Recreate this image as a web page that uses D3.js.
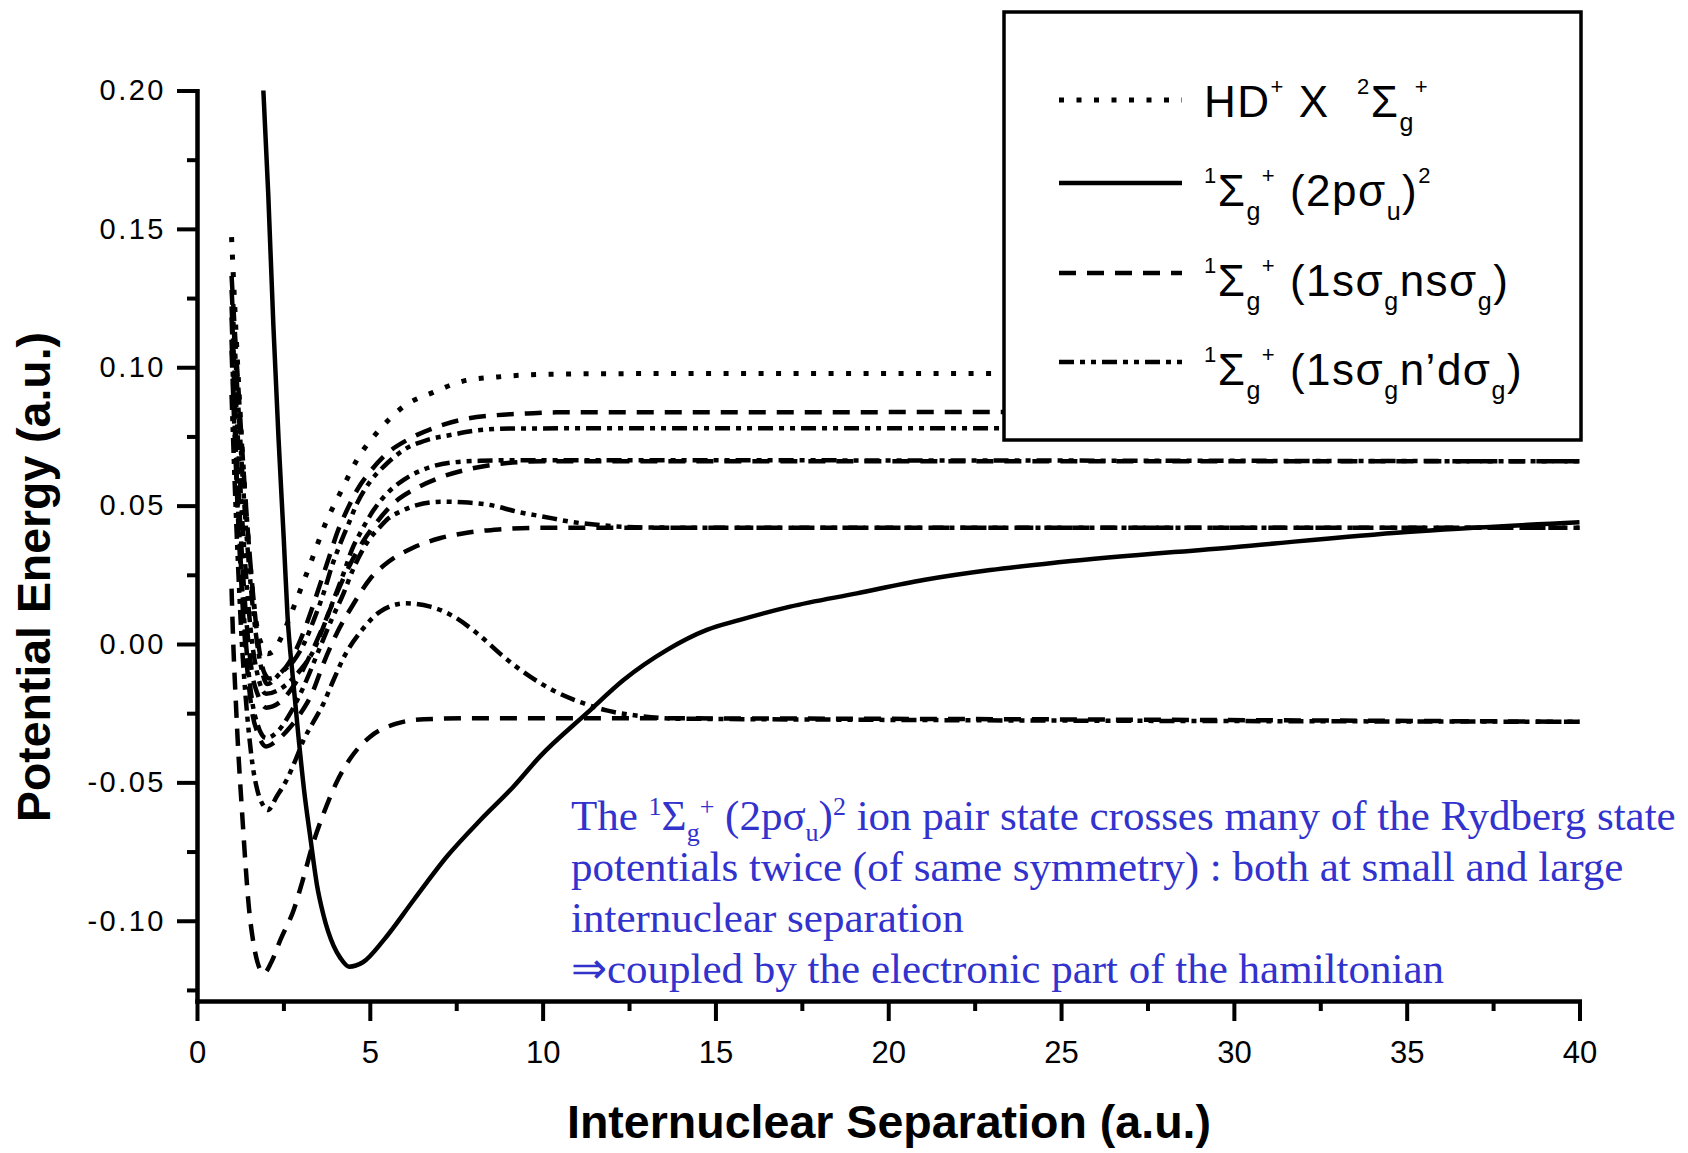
<!DOCTYPE html>
<html>
<head>
<meta charset="utf-8">
<script src="https://cdn.jsdelivr.net/npm/d3@7"></script>
<style>
  html, body { margin: 0; padding: 0; background: #ffffff; }
  svg { display: block; }
  text { white-space: pre; }
</style>
</head>
<body>
<svg id="chart" width="1688" height="1153"></svg>
<script>
// Potential energy curves of HD, 1Σg+ symmetry (energies and distances in a.u.)

const xTicksMajor = [0, 5, 10, 15, 20, 25, 30, 35, 40];
const xTicksMinor = [2.5, 7.5, 12.5, 17.5, 22.5, 27.5, 32.5, 37.5];
const yTicksMajor = [-0.10, -0.05, 0.00, 0.05, 0.10, 0.15, 0.20];
const yTicksMinor = [-0.125, -0.075, -0.025, 0.025, 0.075, 0.125, 0.175];

// HD+ X 2Σg+ ion core
const hdIonCore = [[1.0,0.147],[1.1,0.120],[1.2,0.095],[1.3,0.072],[1.4,0.052],[1.5,0.035],[1.6,0.020],[1.75,0.005],
  [1.9,-0.001],[2.05,-0.0035],[2.25,-0.002],[2.4,0.0014],[2.6,0.007],[2.84,0.0147],[3.25,0.028],[3.7,0.043],[4.2,0.056],
  [4.65,0.067],[5.25,0.077],[6.0,0.086],[6.85,0.091],[7.7,0.095],[8.7,0.0965],[10.3,0.0975],[13,0.0977],[24,0.0977]];

// 1Σg+ (2pσu)2 ion-pair state
const ionPair = [[1.92,0.200],[2.06,0.163],[2.21,0.115],[2.36,0.074],[2.51,0.038],[2.62,0.010],[2.78,-0.013],
  [2.94,-0.034],[3.1,-0.053],[3.28,-0.070],[3.47,-0.087],[3.66,-0.098],[3.95,-0.109],[4.15,-0.1135],[4.4,-0.1166],
  [4.8,-0.1150],[5.4,-0.107],[6.27,-0.0925],[7.23,-0.0768],[8.2,-0.0636],[9.16,-0.0515],[9.92,-0.0407],
  [11.28,-0.025],[12.34,-0.013],[13.59,-0.0022],[14.75,0.0051],[15.71,0.0087],[17.16,0.0135],[19.09,0.0183],
  [21.02,0.0231],[22.95,0.0267],[25,0.0296],[30,0.035],[35,0.0405],[40,0.044]];

// 1Σg+ (1sσg nsσg) Rydberg states
const nsSigma2 = [[1.0,0.02],[1.05,0.0],[1.12,-0.02],[1.2,-0.04],[1.3,-0.06],[1.4,-0.079],[1.5,-0.095],
  [1.62,-0.107],[1.75,-0.115],[1.93,-0.119],[2.15,-0.115],[2.41,-0.107],[2.8,-0.096],[3.09,-0.084],[3.33,-0.0732],
  [3.67,-0.061],[4.05,-0.0497],[4.44,-0.0413],[5.01,-0.0335],[5.74,-0.0289],[6.56,-0.0272],[8,-0.0268],[40,-0.0281]];
const nsSigma3 = [[1.0,0.106],[1.1,0.072],[1.2,0.042],[1.3,0.018],[1.4,-0.001],[1.5,-0.015],[1.6,-0.025],[1.75,-0.032],
  [2.0,-0.037],[2.3,-0.035],[2.7,-0.030],[3.0,-0.025],[3.33,-0.0178],[3.66,-0.007],[4.05,0.004],[4.51,0.0141],
  [5.0,0.0234],[5.54,0.0297],[6.22,0.0346],[7.02,0.0382],[7.81,0.0402],[8.73,0.0414],[10,0.042],[40,0.042]];
const nsSigma4 = [[1.0,0.118],[1.1,0.085],[1.2,0.056],[1.3,0.032],[1.4,0.013],[1.5,-0.001],[1.6,-0.011],[1.75,-0.018],
  [2.0,-0.023],[2.4,-0.021],[2.8,-0.015],[3.2,-0.006],[3.6,0.005],[4.0,0.017],[4.4,0.028],[4.8,0.037],
  [5.2,0.044],[5.7,0.051],[6.3,0.056],[7.0,0.060],[7.8,0.063],[8.7,0.065],[10,0.066],[40,0.066]];
const nsSigma6 = [[1.0,0.133],[1.1,0.112],[1.2,0.092],[1.3,0.072],[1.4,0.053],[1.5,0.036],[1.6,0.021],[1.7,0.008],
  [1.8,-0.002],[1.95,-0.0105],[2.1,-0.0125],[2.31,-0.0115],[2.7,-0.006],[2.99,0.0014],[3.28,0.0111],[3.57,0.0219],
  [3.86,0.0328],[4.05,0.040],[4.34,0.0484],[4.63,0.0556],[5.01,0.0623],[5.5,0.0689],[6.08,0.0737],[6.9,0.0783],
  [7.71,0.0812],[8.68,0.0827],[9.55,0.0833],[10.4,0.0837],[24,0.0838]];

// 1Σg+ (1sσg n'dσg) Rydberg states
const ndSigmaA = [[1.0,0.09],[1.1,0.055],[1.2,0.025],[1.3,0.0],[1.4,-0.018],[1.5,-0.032],[1.6,-0.043],[1.75,-0.053],
  [1.9,-0.058],[2.05,-0.060],[2.31,-0.055],[2.6,-0.049],[2.89,-0.0407],[3.09,-0.0345],[3.33,-0.029],[3.64,-0.022],
  [3.95,-0.013],[4.24,-0.005],[4.77,0.005],[5.3,0.0117],[6.03,0.0147],[6.75,0.0135],[7.43,0.0099],[8.1,0.0039],
  [8.87,-0.0046],[9.64,-0.0118],[10.37,-0.0172],[11.18,-0.0214],[11.85,-0.024],[12.8,-0.026],[14,-0.027],[40,-0.0281]];
const ndSigmaB = [[1.0,0.11],[1.1,0.076],[1.2,0.046],[1.3,0.022],[1.4,0.003],[1.5,-0.011],[1.6,-0.021],[1.75,-0.029],
  [2.0,-0.034],[2.3,-0.032],[2.7,-0.025],[3.1,-0.015],[3.5,-0.003],[3.9,0.009],[4.24,0.0183],[4.5,0.0265],
  [4.75,0.033],[4.97,0.0376],[5.26,0.0418],[5.54,0.0454],[5.88,0.0478],[6.36,0.0502],[7.09,0.0514],[7.71,0.0512],
  [8.49,0.0502],[9.26,0.0478],[10.03,0.046],[10.8,0.0442],[11.8,0.0428],[13,0.0421],[15,0.042],[40,0.042]];
const ndSigmaC = [[1.0,0.122],[1.1,0.095],[1.2,0.070],[1.3,0.047],[1.4,0.028],[1.5,0.012],[1.6,0.0],[1.75,-0.011],
  [2.0,-0.018],[2.51,-0.0154],[2.99,-0.0094],[3.38,-0.0022],[3.66,0.0063],[3.95,0.0159],[4.24,0.0255],[4.48,0.034],
  [4.77,0.0412],[5.11,0.0484],[5.5,0.0544],[5.98,0.0593],[6.65,0.0635],[7.33,0.0655],[8.2,0.0662],[9.2,0.0664],[40,0.066]];
const ndSigmaD = [[1.0,0.128],[1.1,0.106],[1.2,0.085],[1.3,0.064],[1.4,0.045],[1.5,0.029],[1.6,0.015],[1.7,0.004],
  [1.85,-0.008],[2.03,-0.0145],[2.41,-0.0106],[2.8,-0.006],[3.09,0.0],[3.38,0.0087],[3.66,0.0183],[3.9,0.028],
  [4.15,0.0364],[4.39,0.0436],[4.63,0.0508],[4.97,0.058],[5.4,0.0641],[5.98,0.0701],[6.65,0.0737],[7.33,0.0755],
  [8.2,0.0773],[9.2,0.0779],[24,0.078]];

const curves = [
  { data: nsSigma2, kind: "dash" },
  { data: nsSigma3, kind: "dash" },
  { data: nsSigma4, kind: "dash" },
  { data: nsSigma6, kind: "dash" },
  { data: ndSigmaA, kind: "dashdotdot" },
  { data: ndSigmaB, kind: "dashdotdot" },
  { data: ndSigmaC, kind: "dashdotdot" },
  { data: ndSigmaD, kind: "dashdotdot" },
  { data: hdIonCore, kind: "dot" },
  { data: ionPair, kind: "solid" }
];

// legend entries: [segment text, placement]
const legendEntries = [
  { kind: "dot", label: [["HD","n"],["+","sup"],[" X  ","n"],["2","sup"],["Σ","n"],["g","sub"],["+","sup"]] },
  { kind: "solid", label: [["1","sup"],["Σ","n"],["g","sub"],["+","sup"],[" (2pσ","n"],["u","sub"],[")","n"],["2","sup"]] },
  { kind: "dash", label: [["1","sup"],["Σ","n"],["g","sub"],["+","sup"],[" (1sσ","n"],["g","sub"],["nsσ","n"],["g","sub"],[")","n"]] },
  { kind: "dashdotdot", label: [["1","sup"],["Σ","n"],["g","sub"],["+","sup"],[" (1sσ","n"],["g","sub"],["n’dσ","n"],["g","sub"],[")","n"]] }
];

const noteLines = [
  [["The ","n"],["1","sup"],["Σ","n"],["g","sub"],["+","sup"],[" (2pσ","n"],["u","sub"],[")","n"],["2","sup"],[" ion pair state crosses many of the Rydberg state","n"]],
  [["potentials twice (of same symmetry) : both at small and large","n"]],
  [["internuclear separation","n"]],
  [["⇒coupled by the electronic part of the hamiltonian","n"]]
];

const styles = {
  solid:      { width: 4.5, dash: null },
  dash:       { width: 4.5, dash: "17 11" },
  dot:        { width: 5,   dash: "5 12.5" },
  dashdotdot: { width: 4.5, dash: "15 6 5 6 5 6" }
};

const svg = d3.select("#chart");
const x = d3.scaleLinear().domain([0, 40]).range([197, 1579.5]);
const y = d3.scaleLinear().domain([-0.129, 0.2]).range([1001, 90.5]);

// curves
const line = d3.line().x(d => x(d[0])).y(d => y(d[1])).curve(d3.curveMonotoneX);
const gCurves = svg.append("g").attr("fill", "none").attr("stroke", "#000");
curves.forEach(c => {
  const st = styles[c.kind];
  gCurves.append("path")
    .datum(c.data)
    .attr("d", line)
    .attr("stroke-width", st.width)
    .attr("stroke-dasharray", st.dash)
    .attr("stroke-linejoin", "round");
});

// axes
const axisFont = "'Liberation Sans', Arial, Helvetica, sans-serif";
const gx = svg.append("g").attr("transform", "translate(0,1001)");
gx.call(d3.axisBottom(x).tickValues(xTicksMajor).tickSize(20).tickSizeOuter(0).tickPadding(20).tickFormat(d => String(d)));
gx.append("g").call(d3.axisBottom(x).tickValues(xTicksMinor).tickSize(10).tickSizeOuter(0).tickFormat(""));
const gy = svg.append("g").attr("transform", "translate(197,0)");
gy.call(d3.axisLeft(y).tickValues(yTicksMajor).tickSize(20).tickSizeOuter(0).tickPadding(11).tickFormat(d => d.toFixed(2)));
gy.append("g").call(d3.axisLeft(y).tickValues(yTicksMinor).tickSize(10).tickSizeOuter(0).tickFormat(""));

svg.selectAll(".domain").attr("stroke", "#000").attr("stroke-width", 4).attr("stroke-linecap", "square");
svg.selectAll(".tick line").attr("stroke", "#000").attr("stroke-width", 4);
gx.selectAll(".tick text").attr("font-family", axisFont).attr("font-size", 31).attr("fill", "#000");
gy.selectAll(".tick text").attr("font-family", axisFont).attr("font-size", 29).attr("letter-spacing", 2.5).attr("fill", "#000");

// axis titles
svg.append("text")
  .attr("x", 889).attr("y", 1138)
  .attr("text-anchor", "middle")
  .attr("font-family", axisFont).attr("font-weight", "bold").attr("font-size", 46)
  .attr("textLength", 644).attr("lengthAdjust", "spacingAndGlyphs")
  .text("Internuclear Separation (a.u.)");
svg.append("text")
  .attr("transform", "translate(50,577) rotate(-90)")
  .attr("text-anchor", "middle")
  .attr("font-family", axisFont).attr("font-weight", "bold").attr("font-size", 46)
  .attr("textLength", 490).attr("lengthAdjust", "spacingAndGlyphs")
  .text("Potential Energy (a.u.)");

// rich text helper for super/subscripts
function richText(sel, segs, o) {
  let cur = 0;
  segs.forEach(([t, k]) => {
    const target = k === "sup" ? -o.supShift : (k === "sub" ? o.subShift : 0);
    const size = k === "sup" ? o.supSize : (k === "sub" ? o.subSize : o.size);
    sel.append("tspan").attr("dy", target - cur).attr("font-size", size).text(t);
    cur = target;
  });
}

// legend
const lg = svg.append("g");
lg.append("rect").attr("x", 1004).attr("y", 12).attr("width", 577).attr("height", 428)
  .attr("fill", "#fff").attr("stroke", "#000").attr("stroke-width", 3.5);
const legendLineY = [100, 183, 273, 362];
const legendTextY = [117, 206, 296, 385];
legendEntries.forEach((e, i) => {
  const st = styles[e.kind];
  lg.append("line").attr("x1", 1059).attr("x2", 1182)
    .attr("y1", legendLineY[i]).attr("y2", legendLineY[i])
    .attr("stroke", "#000").attr("stroke-width", st.width).attr("stroke-dasharray", st.dash);
  const t = lg.append("text").attr("x", 1204).attr("y", legendTextY[i])
    .attr("font-family", axisFont).attr("letter-spacing", 1.5).attr("fill", "#000");
  richText(t, e.label, { size: 44, supSize: 22, subSize: 25, supShift: 23, subShift: 14 });
});

// annotation
const noteBase = [830, 881, 932, 983];
noteLines.forEach((segs, i) => {
  const t = svg.append("text").attr("x", 571).attr("y", noteBase[i])
    .attr("font-family", "'Liberation Serif', 'Times New Roman', Times, serif")
    .attr("fill", "#3232cd");
  richText(t, segs, { size: 43, supSize: 26, subSize: 26, supShift: 15, subShift: 11 });
});
</script>
</body>
</html>
